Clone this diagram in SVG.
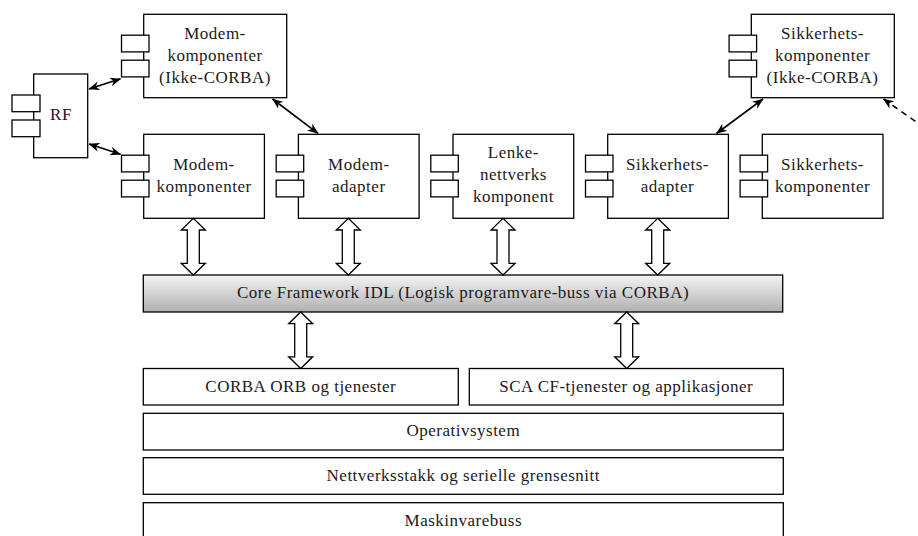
<svg xmlns="http://www.w3.org/2000/svg" width="918" height="536" viewBox="0 0 918 536">
<style>
.box{fill:#fff;stroke:#000;stroke-width:1.3}
.port{fill:#fff;stroke:#000;stroke-width:1.3}
text{font-family:'Liberation Serif','DejaVu Serif','Times New Roman',serif;font-size:17px;letter-spacing:0.5px;text-anchor:middle;fill:#1a1a1a}
.con{fill:none;stroke:#000;stroke-width:1.6}
.dbl{fill:#fff;stroke:#000;stroke-width:1.3;stroke-linejoin:miter}
</style>
<defs>
<linearGradient id="g" x1="0" y1="0" x2="0" y2="1">
<stop offset="0" stop-color="#f4f4f4"/>
<stop offset="1" stop-color="#b0b0b0"/>
</linearGradient>
<marker id="ah" viewBox="0 0 10 8" markerUnits="userSpaceOnUse" markerWidth="11" markerHeight="9" refX="9.5" refY="4" orient="auto-start-reverse">
<path d="M0,0 L10,4 L0,8 L3,4 z" fill="#000"/>
</marker>
</defs>

<g id="rf">
<rect class="box" x="33.7" y="74" width="54" height="83.7"/>
<rect class="port" x="12" y="95" width="28" height="16.7"/>
<rect class="port" x="12" y="120" width="28" height="16.7"/>
<text x="61" y="120">RF</text>
</g>

<g id="modem-ikke">
<rect class="box" x="143.7" y="14.3" width="143" height="83.4"/>
<rect class="port" x="121.5" y="35.2" width="27.5" height="16.7"/>
<rect class="port" x="121.5" y="60.2" width="27.5" height="16.7"/>
<text x="215" y="38.5">Modem-</text>
<text x="215" y="60.8">komponenter</text>
<text x="215" y="83.2">(Ikke-CORBA)</text>
</g>

<g id="sikk-ikke">
<rect class="box" x="751.3" y="14.3" width="143" height="83.4"/>
<rect class="port" x="729.1" y="35.2" width="27.5" height="16.7"/>
<rect class="port" x="729.1" y="60.2" width="27.5" height="16.7"/>
<text x="822.5" y="38.5">Sikkerhets-</text>
<text x="822.5" y="60.8">komponenter</text>
<text x="822.5" y="83.2">(Ikke-CORBA)</text>
</g>

<g id="modem-komp">
<rect class="box" x="143.7" y="134.3" width="120.7" height="84"/>
<rect class="port" x="121.5" y="155.2" width="27.5" height="16.7"/>
<rect class="port" x="121.5" y="180.2" width="27.5" height="16.7"/>
<text x="204" y="169.5">Modem-</text>
<text x="204" y="191.5">komponenter</text>
</g>

<g id="modem-adapter">
<rect class="box" x="298.4" y="134.3" width="120.7" height="84"/>
<rect class="port" x="276.2" y="155.2" width="27.5" height="16.7"/>
<rect class="port" x="276.2" y="180.2" width="27.5" height="16.7"/>
<text x="358.8" y="169.5">Modem-</text>
<text x="358.8" y="191.5">adapter</text>
</g>

<g id="lenke">
<rect class="box" x="453" y="134.3" width="120.7" height="84"/>
<rect class="port" x="430.8" y="155.2" width="27.5" height="16.7"/>
<rect class="port" x="430.8" y="180.2" width="27.5" height="16.7"/>
<text x="513.4" y="157.5">Lenke-</text>
<text x="513.4" y="179.7">nettverks</text>
<text x="513.4" y="201.7">komponent</text>
</g>

<g id="sikk-adapter">
<rect class="box" x="607.7" y="134.3" width="120.7" height="84"/>
<rect class="port" x="585.5" y="155.2" width="27.5" height="16.7"/>
<rect class="port" x="585.5" y="180.2" width="27.5" height="16.7"/>
<text x="667.5" y="169.5">Sikkerhets-</text>
<text x="667.5" y="191.5">adapter</text>
</g>

<g id="sikk-komp">
<rect class="box" x="762.3" y="134.3" width="120.7" height="84"/>
<rect class="port" x="740.1" y="155.2" width="27.5" height="16.7"/>
<rect class="port" x="740.1" y="180.2" width="27.5" height="16.7"/>
<text x="822.5" y="169.5">Sikkerhets-</text>
<text x="822.5" y="191.5">komponenter</text>
</g>

<g id="core">
<rect x="143.3" y="275" width="639.4" height="37" fill="url(#g)" stroke="#000" stroke-width="1.3"/>
<text x="463" y="297.8">Core Framework IDL (Logisk programvare-buss via CORBA)</text>
</g>

<g id="corba-orb">
<rect class="box" x="143.3" y="368.5" width="315" height="36.5"/>
<text x="300.8" y="392">CORBA ORB og tjenester</text>
</g>

<g id="sca">
<rect class="box" x="469.3" y="368.5" width="314" height="36.5"/>
<text x="626.3" y="392">SCA CF-tjenester og applikasjoner</text>
</g>

<g id="os">
<rect class="box" x="143.3" y="413.3" width="640" height="36.7"/>
<text x="463.3" y="436">Operativsystem</text>
</g>

<g id="nett">
<rect class="box" x="143.3" y="457.7" width="640" height="36.6"/>
<text x="463.3" y="480.5">Nettverksstakk og serielle grensesnitt</text>
</g>

<g id="maskin">
<rect class="box" x="143.3" y="502.7" width="640" height="37"/>
<text x="463.3" y="525.8">Maskinvarebuss</text>
</g>

<g id="connectors">
<line class="con" x1="89" y1="89" x2="120.5" y2="78.8" marker-start="url(#ah)" marker-end="url(#ah)"/>
<line class="con" x1="89" y1="144" x2="120.5" y2="154.3" marker-start="url(#ah)" marker-end="url(#ah)"/>
<line class="con" x1="272.5" y1="99" x2="318" y2="133.3" marker-start="url(#ah)" marker-end="url(#ah)"/>
<line class="con" x1="716.5" y1="133.5" x2="763" y2="99" marker-start="url(#ah)" marker-end="url(#ah)"/>
<line class="con" x1="883.5" y1="99" x2="932" y2="133" stroke-dasharray="6,5" marker-start="url(#ah)"/>

<polygon class="dbl" points="193.3,218.3 205.3,230 199.3,230 199.3,263.3 205.3,263.3 193.3,275 181.3,263.3 187.3,263.3 187.3,230 181.3,230"/>
<polygon class="dbl" points="348.3,218.3 360.3,230 354.3,230 354.3,263.3 360.3,263.3 348.3,275 336.3,263.3 342.3,263.3 342.3,230 336.3,230"/>
<polygon class="dbl" points="503,218.3 515,230 509,230 509,263.3 515,263.3 503,275 491,263.3 497,263.3 497,230 491,230"/>
<polygon class="dbl" points="657.7,218.3 669.7,230 663.7,230 663.7,263.3 669.7,263.3 657.7,275 645.7,263.3 651.7,263.3 651.7,230 645.7,230"/>
<polygon class="dbl" points="300.7,312 312.7,323.7 306.7,323.7 306.7,356.8 312.7,356.8 300.7,368.5 288.7,356.8 294.7,356.8 294.7,323.7 288.7,323.7"/>
<polygon class="dbl" points="626.7,312 638.7,323.7 632.7,323.7 632.7,356.8 638.7,356.8 626.7,368.5 614.7,356.8 620.7,356.8 620.7,323.7 614.7,323.7"/>
</g>
</svg>
